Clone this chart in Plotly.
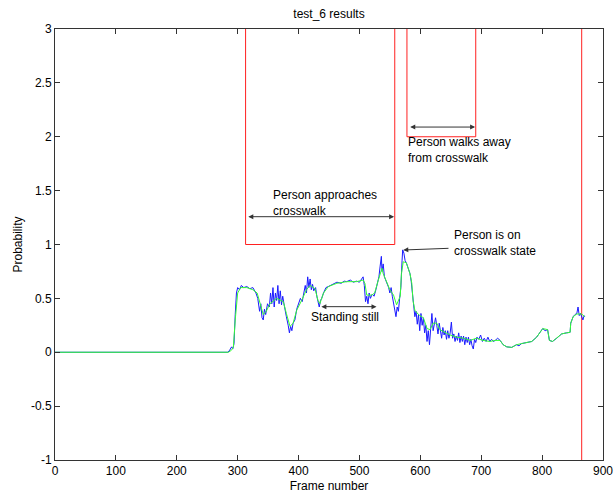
import plotly.graph_objects as go

# ---- data ----
state_x = [0, 313, 313, 558, 558, 578, 578, 691, 691, 865, 865, 870]
state_y = [10, 10, 1, 1, 10, 10, 2, 2, 10, 10, -10, -10]

smooth_x = [0, 285, 290, 293, 296, 300, 305, 315, 325, 332, 337, 342, 347, 353, 364, 375, 380, 386,
            391, 397, 405, 413, 419, 427, 432, 435, 441, 449, 463, 479, 495, 506, 509, 512, 520, 525,
            531, 537, 539, 545, 550, 556, 561, 567, 569, 572, 577, 583, 586, 588, 591, 597, 605, 611,
            616, 621, 627, 632, 641, 649, 660, 671, 682, 692, 703, 714, 723, 731, 736, 742, 750, 758,
            766, 775, 783, 791, 797, 801, 809, 812, 817, 824, 832, 840, 846, 847, 851, 857, 865, 870]
smooth_y = [0, 0, 0.02, 0.05, 0.3, 0.55, 0.6, 0.6, 0.58, 0.55, 0.45, 0.35, 0.38, 0.45, 0.5, 0.47, 0.36, 0.24,
            0.27, 0.39, 0.48, 0.58, 0.62, 0.59, 0.48, 0.45, 0.55, 0.61, 0.64, 0.655, 0.655, 0.67, 0.64, 0.53, 0.53, 0.55,
            0.67, 0.78, 0.73, 0.655, 0.58, 0.53, 0.44, 0.52, 0.73, 0.84, 0.83, 0.73, 0.64, 0.48, 0.39, 0.35, 0.32, 0.22,
            0.21, 0.27, 0.27, 0.21, 0.18, 0.16, 0.14, 0.13, 0.11, 0.13, 0.11, 0.10, 0.11, 0.11, 0.07, 0.05, 0.045, 0.07,
            0.08, 0.09, 0.10, 0.14, 0.19, 0.22, 0.21, 0.11, 0.10, 0.13, 0.17, 0.18, 0.185, 0.27, 0.33, 0.355, 0.355, 0.33]

raw_x = [0, 284, 287, 290, 292, 294, 296, 298, 300, 303, 306, 310, 315, 320, 325, 330, 333, 336, 338, 340,
         342, 344, 346, 349, 352, 354, 356, 358, 360, 362, 364, 366, 368, 370, 372, 374, 376, 378, 380, 383,
         385, 387, 389, 391, 394, 397, 400, 403, 406, 409, 411, 413, 415, 417, 419, 421, 423, 425, 428, 430,
         432, 434, 436, 438, 441, 445, 449, 455, 460, 463, 470, 475, 479, 485, 490, 495, 500, 504, 506, 508,
         510, 512, 514, 516, 518, 521, 524, 527, 530, 532, 534, 536, 537, 539, 541, 543, 545, 548, 550, 552,
         554, 556, 558, 560, 562, 564, 566, 568, 570, 571, 573, 575, 577, 580, 583, 585, 587, 589, 591, 593,
         595, 597, 599, 601, 603, 605, 607, 609, 611, 613, 615, 617, 619, 621, 623, 625, 627, 629, 631, 633,
         635, 637, 639, 641, 643, 645, 647, 649, 651, 653, 655, 657, 659, 661, 663, 665, 667, 669, 671, 673,
         675, 677, 679, 681, 683, 685, 687, 689, 691, 693, 696, 699, 702, 705, 708, 711, 714, 717, 720, 723,
         727, 731, 736, 742, 750, 758, 762, 766, 775, 783, 791, 797, 801, 805, 809, 812, 817, 824, 832, 840,
         846, 847, 851, 854, 857, 859, 861, 863, 865, 867, 869, 870]
raw_y = [0, 0, 0.02, 0.05, 0.03, 0.08, 0.35, 0.55, 0.6, 0.58, 0.62, 0.6, 0.61, 0.59, 0.6, 0.55, 0.5, 0.38, 0.45, 0.32,
         0.3, 0.4, 0.35, 0.45, 0.42, 0.55, 0.45, 0.6, 0.42, 0.55, 0.48, 0.62, 0.45, 0.57, 0.44, 0.52, 0.45, 0.38, 0.33, 0.25,
         0.18, 0.24, 0.2, 0.27, 0.3, 0.4, 0.45, 0.5, 0.47, 0.55, 0.62, 0.55, 0.7, 0.6, 0.68, 0.58, 0.63, 0.57, 0.6, 0.52,
         0.45, 0.42, 0.48, 0.5, 0.55, 0.6, 0.61, 0.63, 0.64, 0.65, 0.64, 0.66, 0.655, 0.67, 0.65, 0.66, 0.65, 0.68, 0.7, 0.62,
         0.47, 0.52, 0.45, 0.55, 0.5, 0.54, 0.52, 0.58, 0.67, 0.7, 0.8, 0.89, 0.75, 0.82, 0.7, 0.67, 0.63, 0.6, 0.55, 0.6,
         0.52, 0.45, 0.4, 0.33, 0.42, 0.38, 0.5, 0.6, 0.85, 0.95, 0.92, 0.85, 0.83, 0.78, 0.73, 0.66, 0.55, 0.45, 0.33, 0.38,
         0.26, 0.35, 0.2, 0.36, 0.25, 0.32, 0.18, 0.25, 0.1, 0.2, 0.07, 0.22, 0.36, 0.2, 0.28, 0.32, 0.25, 0.17, 0.27, 0.2,
         0.13, 0.23, 0.16, 0.2, 0.12, 0.2, 0.13, 0.18, 0.28, 0.13, 0.17, 0.1, 0.15, 0.11, 0.18, 0.09, 0.15, 0.1, 0.15, 0.07,
         0.14, 0.09, 0.14, 0.07, 0.12, 0.06, 0.03, 0.12, 0.09, 0.14, 0.12, 0.16, 0.1, 0.13, 0.1, 0.14, 0.1, 0.12, 0.1, 0.11,
         0.13, 0.11, 0.07, 0.05, 0.045, 0.07, 0.06, 0.08, 0.09, 0.1, 0.14, 0.19, 0.22, 0.2, 0.21, 0.11, 0.1, 0.13, 0.17, 0.18,
         0.185, 0.27, 0.33, 0.35, 0.36, 0.42, 0.34, 0.36, 0.33, 0.3, 0.34, 0.33]

x_ticks = [0, 100, 200, 300, 400, 500, 600, 700, 800, 900]
y_ticks = [-1, -0.5, 0, 0.5, 1, 1.5, 2, 2.5, 3]
y_tick_labels = ["-1", "-0.5", "0", "0.5", "1", "1.5", "2", "2.5", "3"]

FONT = "Liberation Sans, Arial, sans-serif"
AX = "#333333"

fig = go.Figure()
fig.add_trace(go.Scatter(x=state_x, y=state_y, mode="lines",
                         line=dict(color="#ff2020", width=1), showlegend=False))
fig.add_trace(go.Scatter(x=raw_x, y=raw_y, mode="lines",
                         line=dict(color="#1a1aff", width=1), showlegend=False))
fig.add_trace(go.Scatter(x=smooth_x, y=smooth_y, mode="lines",
                         line=dict(color="#33ff33", width=1), showlegend=False))

def double_arrow(x0, x1, y):
    fig.add_annotation(x=x1, y=y, ax=x0, ay=y, xref="x", yref="y", axref="x", ayref="y",
                       text="", showarrow=True, arrowside="end+start", arrowhead=2,
                       startarrowhead=2, arrowsize=1, startarrowsize=1, arrowwidth=1,
                       arrowcolor=AX)

def label(x, y, txt):
    fig.add_annotation(x=x, y=y, xref="x", yref="y", text=txt, showarrow=False,
                       xanchor="left", yanchor="middle", align="left",
                       font=dict(family=FONT, size=12, color="black"))

double_arrow(315, 557, 1.258)
label(354, 1.385, "Person approaches<br>crosswalk")

double_arrow(581, 690, 2.09)
label(577, 1.877, "Person walks away<br>from crosswalk")

double_arrow(435, 528, 0.423)
label(417, 0.33, "Standing still")

fig.add_annotation(x=572, y=0.949, ax=648.7, ay=0.965, xref="x", yref="y", axref="x", ayref="y",
                   text="", showarrow=True, arrowhead=2, arrowsize=1, arrowwidth=1, arrowcolor=AX)
label(652, 1.011, "Person is on<br>crosswalk state")

fig.update_layout(
    width=614, height=498,
    margin=dict(l=55, r=11, t=29, b=38),
    paper_bgcolor="white", plot_bgcolor="white",
    font=dict(family=FONT, size=12, color="black"),
    title=dict(text="test_6 results", x=0.5, xref="paper", y=1 - 14 / 498, yref="container",
               xanchor="center", yanchor="middle", font=dict(family=FONT, size=12, color="black")),
    xaxis=dict(range=[0, 900], tickvals=x_ticks, ticks="inside", ticklen=5, tickcolor=AX,
               showline=True, linecolor=AX, linewidth=1, mirror="ticks", showgrid=False,
               zeroline=False, automargin=False, tickfont=dict(family=FONT, size=12, color="black"),
               title=dict(text="Frame number", standoff=4, font=dict(family=FONT, size=12))),
    yaxis=dict(range=[-1, 3], tickvals=y_ticks, ticktext=y_tick_labels, ticks="inside", ticklen=5,
               tickcolor=AX, showline=True, linecolor=AX, linewidth=1, mirror="ticks",
               showgrid=False, zeroline=False, automargin=False,
               tickfont=dict(family=FONT, size=12, color="black"),
               title=dict(text="Probability", standoff=5, font=dict(family=FONT, size=12))),
)

fig.write_html("out.html")
